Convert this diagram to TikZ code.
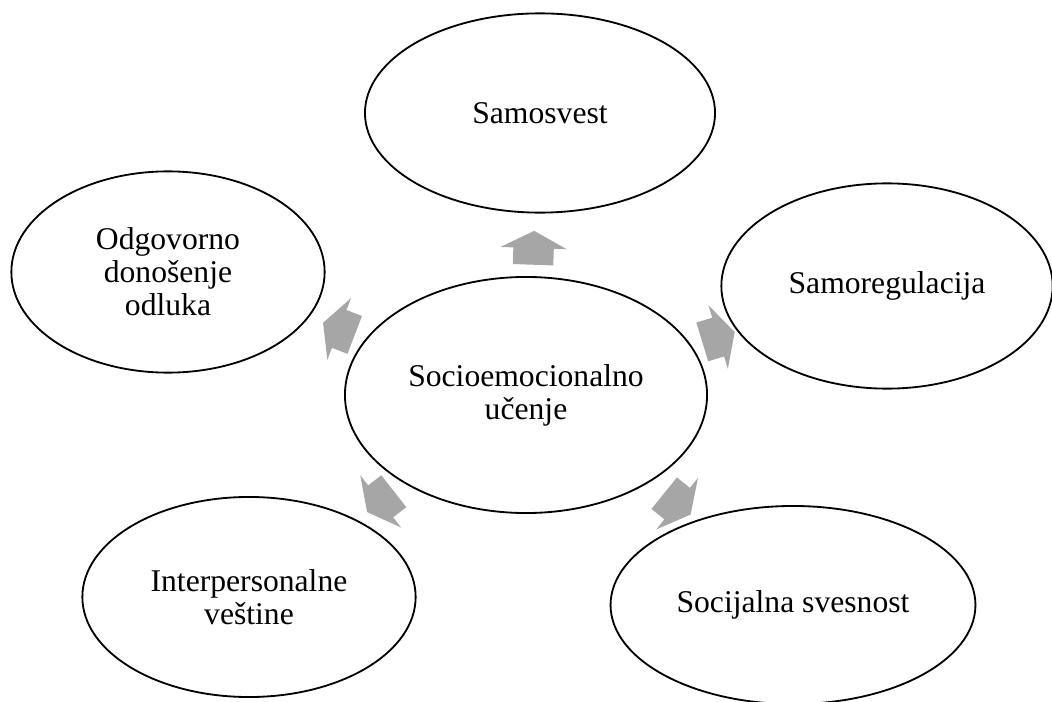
\documentclass[tikz,border=0pt]{standalone}
\usepackage{fontspec}
\setmainfont{Liberation Serif}
\usetikzlibrary{shapes.geometric,shapes.arrows}
\definecolor{arrowgray}{RGB}{166,166,166}
\begin{document}
\begin{tikzpicture} [x=0.025cm,y=-0.025cm,
	skill/.style={shape=ellipse,draw=black,line width=1.3pt,fill=white,inner sep=0pt,align=center,font=\fontsize{22.5}{23.4}\selectfont},
	push/.style={shape=single arrow,fill=arrowgray,draw=none,inner sep=0pt,inner ysep=14.2pt,single arrow head extend=9.2pt,single arrow tip angle=125,minimum height=24.1pt,anchor=tail}]
	\useasboundingbox (0,0) rectangle (1052,702);

	\node (upArrow) at (533,265)[push,rotate=88] {};
	\node (rightArrow) at (702,342)[push,rotate=17] {};
	\node (downRightArrow) at (664,493)[push,rotate=-39] {};
	\node (downLeftArrow) at (394,491)[push,rotate=218] {};
	\node (leftArrow) at (355,335)[push,rotate=159] {};

	\node (selNode) at (526,395)[skill,minimum width=9.05cm,minimum height=5.9cm] {Socioemocionalno\\učenje};
	\node (awareNode) at (540,113)[skill,minimum width=8.75cm,minimum height=4.98cm] {Samosvest};
	\node (regNode) at (887,286)[skill,minimum width=8.28cm,minimum height=5.13cm] {Samoregulacija};
	\node (socialNode) at (793,605)[skill,minimum width=9.12cm,minimum height=4.95cm] {Socijalna svesnost};
	\node (skillsNode) at (249,597)[skill,minimum width=8.33cm,minimum height=5cm] {Interpersonalne\\veštine};
	\node (decisionNode) at (168,272)[skill,minimum width=7.83cm,minimum height=5.03cm] {Odgovorno\\donošenje\\odluka};
\end{tikzpicture}
\end{document}
